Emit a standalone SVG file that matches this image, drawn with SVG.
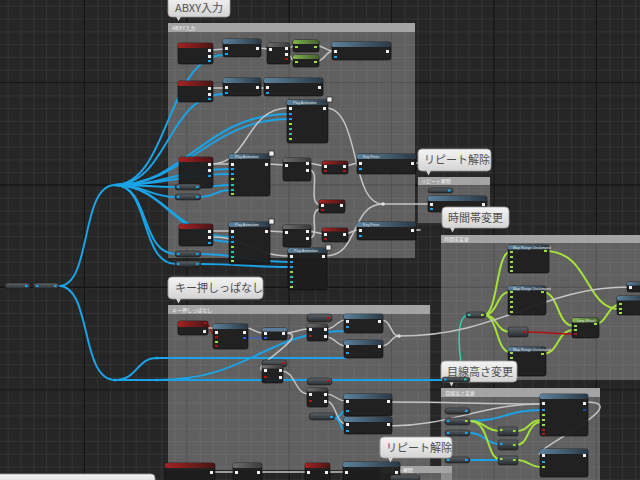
<svg xmlns="http://www.w3.org/2000/svg" width="640" height="480" viewBox="0 0 640 480">
<style>
.nb{fill:#1d1d1d;fill-opacity:.94;stroke:#0c0c0c;stroke-width:.6}
.hf{fill:url(#gF)}
.he{fill:url(#gE)}
.hg{fill:url(#gG)}
.hm{fill:url(#gM)}
.pl{fill:url(#gP);stroke:#141414;stroke-width:.5}
.x{fill:#f0f0f0}
.b{fill:#17a5f0}
.g{fill:#9be03c}
.r{fill:#b01212}
.t{fill:#24c9a8}
.w{fill:none;stroke-linecap:round}
.wb{stroke:#1aa3e6;stroke-width:2}
.wx{stroke:#c4c4c4;stroke-width:1.5}
.wg{stroke:#a6e03c;stroke-width:2}
.wr{stroke:#b41010;stroke-width:1.6}
.wt{stroke:#2cd2b0;stroke-width:1.6}
.cm{fill:#fff;fill-opacity:.27}
.ch{fill:#a4a4a4}
.ct{font-family:"Liberation Sans","Noto Sans CJK JP",sans-serif;font-size:5px;fill:#f4f4f4}
.bb{fill:url(#gB);stroke:#9a9a9a;stroke-width:.8}
.bt{font-family:"Noto Sans CJK JP","Noto Sans",sans-serif;font-size:11px;fill:#4e4e4e}
.nt{font-family:"Liberation Sans",sans-serif;font-size:3.6px;fill:#e6e6e6}
</style>
<defs>
<pattern id="grid" x="7.7" y="5.8" width="12.8" height="12.8" patternUnits="userSpaceOnUse">
<path d="M0.5,0 V12.8 M0,0.5 H12.8" stroke="#333" stroke-width="1" fill="none"/>
</pattern>
<linearGradient id="gF" x1="0" x2="1" y1="0" y2="0"><stop offset="0" stop-color="#5b819c"/><stop offset="1" stop-color="#2a3844"/></linearGradient>
<linearGradient id="gE" x1="0" x2="1" y1="0" y2="0"><stop offset="0" stop-color="#a42222"/><stop offset="1" stop-color="#481515"/></linearGradient>
<linearGradient id="gG" x1="0" x2="1" y1="0" y2="0"><stop offset="0" stop-color="#7fb44c"/><stop offset="1" stop-color="#445f2c"/></linearGradient>
<linearGradient id="gM" x1="0" x2="1" y1="0" y2="0"><stop offset="0" stop-color="#6c6c6c"/><stop offset="1" stop-color="#3a3a3a"/></linearGradient>
<linearGradient id="gP" x1="0" x2="0" y1="0" y2="1"><stop offset="0" stop-color="#5d6369"/><stop offset="1" stop-color="#272b2f"/></linearGradient>
<linearGradient id="gB" x1="0" x2="0" y1="0" y2="1"><stop offset="0" stop-color="#f4f4f4"/><stop offset="1" stop-color="#d4d4d4"/></linearGradient>
</defs>

<rect width="640" height="480" fill="#262626"/>
<rect width="640" height="480" fill="url(#grid)"/>
<g stroke="#141414" stroke-width="1.3">
<path d="M84.5,0 V480 M186.9,0 V480 M289.3,0 V480 M391.7,0 V480 M494.1,0 V480 M596.5,0 V480"/>
<path d="M0,82.6 H640 M0,185 H640 M0,287.4 H640 M0,389.8 H640"/>
</g>

<g id="comments">
<rect class="cm" x="168" y="23" width="247" height="235"/><rect class="ch" x="168" y="23" width="247" height="9"/>
<text class="ct" x="172" y="30">ABXY入力</text>
<rect class="cm" x="418" y="177" width="72" height="46"/><rect class="ch" x="418" y="177" width="72" height="8"/>
<text class="ct" x="421" y="183">リピート解除</text>
<rect class="cm" x="441" y="235" width="199" height="145"/><rect class="ch" x="441" y="235" width="199" height="8"/>
<text class="ct" x="444" y="241">時間帯変更</text>
<rect class="cm" x="168" y="305" width="262" height="165"/><rect class="ch" x="168" y="305" width="262" height="9"/>
<text class="ct" x="172" y="311.5">キー押しっぱなし</text>
<rect class="cm" x="441" y="388" width="159" height="92"/><rect class="ch" x="441" y="388" width="159" height="9"/>
<text class="ct" x="445" y="394.5">目線高さ変更</text>
<rect class="cm" x="380" y="466" width="72" height="14"/><rect class="ch" x="380" y="466" width="72" height="7"/>
<text class="ct" x="383" y="471.5">リピート解除</text>
</g>

<g id="connectors" class="w">
<g class="wb w">
<path d="M59,286 C92,286 80,185 115,185"/>
<path d="M59,286 C92,286 80,380 115,380"/>
<path d="M115,185 C168,185 168,55 224,55"/>
<path d="M115,185 C168,185 168,94 224,94"/>
<path d="M115,185 C185,185 205,114 289,114"/>
<path d="M115,185 C185,185 210,119 289,119"/>
<path d="M115,185 C170,185 175,169 231,169"/>
<path d="M115,185 C170,185 180,174 231,174"/>
<path d="M115,185 C145,185 150,187 176,187"/>
<path d="M115,185 C145,185 150,197 176,197"/>
<path d="M115,185 C150,185 140,254 176,254"/>
<path d="M115,185 C150,185 140,264 176,264"/>
<path d="M115,185 C165,185 175,237 231,237"/>
<path d="M115,185 C165,185 180,242 231,242"/>
<path d="M200,187 C215,187 215,185 231,185"/>
<path d="M200,197 C215,197 215,190 231,190"/>
<path d="M200,254 C240,254 250,262 290,262"/>
<path d="M200,264 C240,264 250,267 290,267"/>
<path d="M115,380 L444,380"/>
<path d="M115,380 C138,380 136,358 157,358 L346,358"/>
<path d="M157,380 C250,380 265,331 346,331"/>
<path d="M335,418 C341,418 340,411 346,411"/>
<path d="M335,418 C341,418 340,431 346,431"/>
<path d="M470,421 C505,421 505,410 542,410"/>
<path d="M470,433 C485,433 485,444 500,444"/>
<path d="M470,460 L500,460"/>
</g>
<path d="M248,338 L262,338" stroke="#2f5ee0" stroke-width="1.2"/>
<path class="wt w" d="M466,379 C458,360 455,316 468,315"/>
<g class="wg w">
<path d="M484,315 C498,315 496,252 510,252"/>
<path d="M484,315 C498,315 496,292 510,292"/>
<path d="M484,315 C498,315 496,332 510,332"/>
<path d="M484,315 C498,315 496,352 510,352"/>
<path d="M545,251 C590,251 585,309 619,309"/>
<path d="M542,292 C560,292 556,326 574,326"/>
<path d="M542,354 C560,354 556,330 574,330"/>
<path d="M596,324 C606,324 608,305 619,305"/>
<path d="M470,421 C486,421 484,431 500,431"/>
<path d="M470,421 C490,421 486,459 500,459"/>
<path d="M516,431 C530,431 528,420 542,420"/>
<path d="M516,445 C530,445 526,422 542,422"/>
<path d="M516,460 C530,460 528,467 542,467"/>
</g>
<g class="wr w">
<path d="M525,332 C545,332 555,334 574,334"/>
<path d="M206,323 C210,323 210,335 215,335"/>
</g>
<g class="wx w">
<path d="M211,50 L225,49"/>
<path d="M259,48 L269,49"/>
<path d="M288,48 C291,48 291,46 295,46"/>
<path d="M288,54 C291,54 291,61 295,61"/>
<path d="M317,46 C325,46 325,51 334,51"/>
<path d="M317,61 C325,61 325,51 334,51"/>
<path d="M211,88 L225,88"/>
<path d="M259,88 L266,88"/>
<path d="M211,164 L231,164"/>
<path d="M211,164 C250,164 245,108 289,108"/>
<path d="M268,164 L285,165"/>
<path d="M309,163 L324,166"/>
<path d="M309,170 C322,170 306,205 321,205"/>
<path d="M345,166 C350,166 352,163 359,163"/>
<path d="M326,108 C360,108 350,204 383,204"/>
<path d="M325,256 C360,256 350,204 383,204"/>
<path d="M383,204 L430,204"/>
<path d="M211,231 L231,231"/>
<path d="M211,237 C250,237 252,256 290,256"/>
<path d="M268,231 L285,232"/>
<path d="M309,231 L324,234"/>
<path d="M309,238 C322,238 306,209 321,209"/>
<path d="M345,234 C350,234 352,230 359,230"/>
<path d="M414,163 L420,163"/>
<path d="M414,230 L420,230"/>
<path d="M206,328 L215,328"/>
<path d="M246,328 C254,328 254,333 264,333"/>
<path d="M285,333 C297,333 297,329 309,329"/>
<path d="M285,333 C315,333 245,370 264,370"/>
<path d="M326,329 C336,329 336,320 346,320"/>
<path d="M326,337 C336,337 336,346 346,346"/>
<path d="M381,320 C392,320 390,336 399,336"/>
<path d="M381,346 C392,346 390,336 399,336"/>
<path d="M399,336 C500,336 540,287 629,287"/>
<path d="M281,371 C296,371 294,394 309,394"/>
<path d="M326,394 C336,394 336,401 346,401"/>
<path d="M326,401 C336,401 336,424 346,424"/>
<path d="M390,402 C460,402 470,404 542,404"/>
<path d="M390,426 C450,426 480,404 542,404"/>
<path d="M586,402 C640,402 520,455 542,455"/>
<path d="M213,472 L235,472"/>
<path d="M260,472 L307,472"/>
<path d="M328,472 L345,472"/>
</g>
<circle cx="383" cy="204" r="1.8" fill="#e0e0e0"/>
<circle cx="399" cy="336" r="1.8" fill="#e0e0e0"/>
<circle cx="115" cy="185" r="1.5" fill="#1aa3e6"/>
<circle cx="115" cy="380" r="1.5" fill="#1aa3e6"/>
<circle cx="157" cy="358" r="1.5" fill="#1aa3e6"/>
<circle cx="157" cy="380" r="1.5" fill="#1aa3e6"/>
</g>

<g id="start_pills">
<rect class="pl" x="5" y="283" width="25" height="6" rx="3"/><rect class="b" x="25" y="285" width="2.5" height="2"/>
<rect class="pl" x="33" y="283" width="26" height="6" rx="3"/><rect class="b" x="36" y="285" width="2.5" height="2"/><rect class="b" x="54" y="285" width="2.5" height="2"/>
</g>

<!-- ABXY nodes -->
<g id="ev1"><rect class="nb" x="178" y="43" width="35" height="21" rx="2"/><rect class="he" x="178" y="43" width="35" height="5" rx="1.5"/><rect class="x" x="208" y="49" width="3" height="3"/><rect class="x" x="208" y="55" width="3" height="3"/><rect class="b" x="208" y="60" width="3" height="2"/></g>
<g id="fn1"><rect class="nb" x="223" y="39" width="38" height="18" rx="2"/><rect class="hf" x="223" y="39" width="38" height="5" rx="1.5"/><rect class="x" x="225" y="47" width="3" height="3"/><rect class="b" x="225" y="53" width="3" height="2"/><rect class="x" x="256" y="47" width="3" height="3"/></g>
<g id="mac1"><rect class="nb" x="267" y="43" width="23" height="21" rx="2"/><rect class="hm" x="267" y="43" width="23" height="4" rx="1.5"/><rect class="x" x="269" y="48" width="3" height="3"/><rect class="x" x="285" y="47" width="3" height="3"/><rect class="x" x="285" y="53" width="3" height="3"/><rect class="r" x="285" y="58" width="3" height="2"/></g>
<g id="gr1"><rect class="nb" x="293" y="40" width="26" height="12" rx="2"/><rect class="hg" x="293" y="40" width="26" height="4" rx="1.5"/><rect class="g" x="295" y="46" width="3" height="2"/><rect class="g" x="314" y="46" width="3" height="2"/></g>
<g id="gr2"><rect class="nb" x="293" y="55" width="26" height="12" rx="2"/><rect class="hg" x="293" y="55" width="26" height="4" rx="1.5"/><rect class="g" x="295" y="61" width="3" height="2"/><rect class="g" x="314" y="61" width="3" height="2"/></g>
<g id="fn2"><rect class="nb" x="332" y="42" width="59" height="18" rx="2"/><rect class="hf" x="332" y="42" width="59" height="5" rx="1.5"/><rect class="x" x="334" y="50" width="3" height="3"/><rect class="b" x="334" y="56" width="3" height="2"/><rect class="x" x="386" y="50" width="3" height="3"/></g>
<g id="ev2"><rect class="nb" x="178" y="81" width="35" height="21" rx="2"/><rect class="he" x="178" y="81" width="35" height="5" rx="1.5"/><rect class="x" x="208" y="87" width="3" height="3"/><rect class="x" x="208" y="93" width="3" height="3"/><rect class="b" x="208" y="98" width="3" height="2"/></g>
<g id="fn3"><rect class="nb" x="223" y="78" width="38" height="18" rx="2"/><rect class="hf" x="223" y="78" width="38" height="5" rx="1.5"/><rect class="x" x="225" y="86" width="3" height="3"/><rect class="b" x="225" y="92" width="3" height="2"/><rect class="x" x="256" y="86" width="3" height="3"/></g>
<g id="fn4"><rect class="nb" x="264" y="78" width="59" height="18" rx="2"/><rect class="hf" x="264" y="78" width="59" height="5" rx="1.5"/><rect class="x" x="266" y="86" width="3" height="3"/><rect class="b" x="266" y="92" width="3" height="2"/><rect class="x" x="318" y="86" width="3" height="3"/></g>
<g id="play1"><rect class="nb" x="287" y="100" width="41" height="43" rx="2"/><rect class="hf" x="287" y="100" width="41" height="5" rx="1.5"/><text class="nt" x="293" y="104">Play Animation</text><rect x="327" y="97" width="5" height="5" fill="#eee" stroke="#111" stroke-width=".6"/>
<rect class="x" x="289" y="107" width="3" height="3"/><rect class="b" x="289" y="113" width="3" height="2"/><rect class="b" x="289" y="118" width="3" height="2"/><rect class="g" x="289" y="123" width="3" height="2"/><rect class="t" x="289" y="128" width="3" height="2"/><rect class="t" x="289" y="133" width="3" height="2"/><rect class="g" x="289" y="138" width="3" height="2"/><rect class="x" x="323" y="107" width="3" height="3"/></g>
<g id="ev3"><rect class="nb" x="179" y="157" width="34" height="31" rx="2"/><rect class="he" x="179" y="157" width="34" height="5" rx="1.5"/><rect class="x" x="208" y="163" width="3" height="3"/><rect class="x" x="208" y="169" width="3" height="3"/><rect class="b" x="208" y="175" width="3" height="2"/></g>
<g id="pl1"><rect class="pl" x="175" y="184" width="26" height="6" rx="3"/><rect class="b" x="177" y="186" width="2.5" height="2"/><rect class="b" x="196" y="186" width="2.5" height="2"/></g>
<g id="pl2"><rect class="pl" x="175" y="194" width="26" height="6" rx="3"/><rect class="b" x="177" y="196" width="2.5" height="2"/><rect class="b" x="196" y="196" width="2.5" height="2"/></g>
<g id="play2"><rect class="nb" x="229" y="154" width="41" height="42" rx="2"/><rect class="hf" x="229" y="154" width="41" height="5" rx="1.5"/><text class="nt" x="235" y="158">Play Animation</text><rect x="269" y="151" width="5" height="5" fill="#eee" stroke="#111" stroke-width=".6"/>
<rect class="x" x="231" y="163" width="3" height="3"/><rect class="b" x="231" y="168" width="3" height="2"/><rect class="b" x="231" y="173" width="3" height="2"/><rect class="g" x="231" y="178" width="3" height="2"/><rect class="t" x="231" y="184" width="3" height="2"/><rect class="t" x="231" y="189" width="3" height="2"/><rect class="g" x="231" y="193" width="3" height="2"/><rect class="x" x="265" y="163" width="3" height="3"/></g>
<g id="seq1"><rect class="nb" x="283" y="158" width="28" height="23" rx="2"/><rect class="hm" x="283" y="158" width="28" height="4" rx="1.5"/><rect class="x" x="285" y="164" width="3" height="3"/><rect class="x" x="306" y="162" width="3" height="3"/><rect class="x" x="306" y="169" width="3" height="3"/></g>
<g id="rs1"><rect class="nb" x="322" y="161" width="26" height="13" rx="2"/><rect class="he" x="322" y="161" width="26" height="3.5" rx="1.5"/><rect class="x" x="324" y="165" width="3" height="3"/><rect class="r" x="324" y="170" width="3" height="2"/><rect class="x" x="343" y="165" width="3" height="3"/><rect class="r" x="343" y="170" width="3" height="2"/></g>
<g id="rs2"><rect class="nb" x="319" y="200" width="26" height="13" rx="2"/><rect class="he" x="319" y="200" width="26" height="3.5" rx="1.5"/><rect class="x" x="321" y="204" width="3" height="3"/><rect class="r" x="321" y="209" width="3" height="2"/><rect class="x" x="340" y="204" width="3" height="3"/></g>
<g id="key1"><rect class="nb" x="357" y="154" width="59" height="20" rx="2"/><rect class="hf" x="357" y="154" width="59" height="5" rx="1.5"/><text class="nt" x="363" y="158">Key Press</text><rect class="x" x="359" y="162" width="3" height="3"/><rect class="b" x="359" y="168" width="3" height="2"/><rect class="x" x="411" y="162" width="3" height="3"/></g>
<g id="ev4"><rect class="nb" x="179" y="224" width="34" height="22" rx="2"/><rect class="he" x="179" y="224" width="34" height="5" rx="1.5"/><rect class="x" x="208" y="230" width="3" height="3"/><rect class="x" x="208" y="236" width="3" height="3"/><rect class="b" x="208" y="242" width="3" height="2"/></g>
<g id="pl3"><rect class="pl" x="175" y="251" width="26" height="6" rx="3"/><rect class="b" x="177" y="253" width="2.5" height="2"/><rect class="b" x="196" y="253" width="2.5" height="2"/></g>
<g id="pl4"><rect class="pl" x="175" y="261" width="26" height="6" rx="3"/><rect class="b" x="177" y="263" width="2.5" height="2"/><rect class="b" x="196" y="263" width="2.5" height="2"/></g>
<g id="play3"><rect class="nb" x="229" y="222" width="41" height="42" rx="2"/><rect class="hf" x="229" y="222" width="41" height="5" rx="1.5"/><text class="nt" x="235" y="226">Play Animation</text><rect x="269" y="219" width="5" height="5" fill="#eee" stroke="#111" stroke-width=".6"/>
<rect class="x" x="231" y="230" width="3" height="3"/><rect class="b" x="231" y="236" width="3" height="2"/><rect class="b" x="231" y="241" width="3" height="2"/><rect class="g" x="231" y="246" width="3" height="2"/><rect class="t" x="231" y="251" width="3" height="2"/><rect class="t" x="231" y="256" width="3" height="2"/><rect class="g" x="231" y="260" width="3" height="2"/><rect class="x" x="265" y="230" width="3" height="3"/></g>
<g id="seq2"><rect class="nb" x="283" y="225" width="28" height="22" rx="2"/><rect class="hm" x="283" y="225" width="28" height="4" rx="1.5"/><rect class="x" x="285" y="231" width="3" height="3"/><rect class="x" x="306" y="230" width="3" height="3"/><rect class="x" x="306" y="237" width="3" height="3"/></g>
<g id="rs3"><rect class="nb" x="322" y="228" width="26" height="14" rx="2"/><rect class="he" x="322" y="228" width="26" height="3.5" rx="1.5"/><rect class="x" x="324" y="233" width="3" height="3"/><rect class="r" x="324" y="238" width="3" height="2"/><rect class="x" x="343" y="233" width="3" height="3"/></g>
<g id="key2"><rect class="nb" x="357" y="222" width="59" height="18" rx="2"/><rect class="hf" x="357" y="222" width="59" height="5" rx="1.5"/><text class="nt" x="363" y="226">Key Press</text><rect class="x" x="359" y="229" width="3" height="3"/><rect class="b" x="359" y="235" width="3" height="2"/><rect class="x" x="411" y="229" width="3" height="3"/></g>
<g id="play4"><rect class="nb" x="288" y="248" width="39" height="42" rx="2"/><rect class="hf" x="288" y="248" width="39" height="5" rx="1.5"/><text class="nt" x="294" y="252">Play Animation</text><rect x="326" y="245" width="5" height="5" fill="#eee" stroke="#111" stroke-width=".6"/>
<rect class="x" x="290" y="255" width="3" height="3"/><rect class="b" x="290" y="261" width="3" height="2"/><rect class="b" x="290" y="266" width="3" height="2"/><rect class="g" x="290" y="271" width="3" height="2"/><rect class="t" x="290" y="276" width="3" height="2"/><rect class="t" x="290" y="281" width="3" height="2"/><rect class="g" x="290" y="286" width="3" height="2"/><rect class="x" x="322" y="255" width="3" height="3"/></g>

<!-- repeat release -->
<g id="rp_pill"><rect class="pl" x="428" y="188" width="25" height="5" rx="2.5"/><rect class="b" x="448" y="189.5" width="2.5" height="2"/></g>
<g id="rp_fn"><rect class="nb" x="428" y="196" width="59" height="16" rx="2"/><rect class="hf" x="428" y="196" width="59" height="5" rx="1.5"/><rect class="x" x="430" y="203" width="3" height="3"/><rect class="b" x="430" y="208" width="3" height="2"/><rect class="x" x="482" y="203" width="3" height="3"/></g>

<!-- time of day -->
<g id="t_reroute"><rect class="pl" x="466" y="312" width="20" height="6" rx="3"/><rect class="t" x="468" y="314" width="2.5" height="2"/><rect class="g" x="481" y="314" width="2.5" height="2"/></g>
<g id="t_map1"><rect class="nb" x="508" y="245" width="41" height="28" rx="2"/><rect class="hf" x="508" y="245" width="41" height="4.5" rx="1.5"/><text class="nt" x="513" y="248.7">Map Range Unclamped</text><rect class="g" x="510" y="251" width="3" height="2"/><rect class="g" x="510" y="256" width="3" height="2"/><rect class="g" x="510" y="261" width="3" height="2"/><rect class="g" x="510" y="266" width="3" height="2"/><rect class="g" x="510" y="270" width="3" height="2"/><rect class="g" x="544" y="250" width="3" height="2"/></g>
<g id="t_map2"><rect class="nb" x="508" y="286" width="38" height="29" rx="2"/><rect class="hf" x="508" y="286" width="38" height="4.5" rx="1.5"/><text class="nt" x="513" y="289.7">Map Range Unclamped</text><rect class="g" x="510" y="291" width="3" height="2"/><rect class="g" x="510" y="296" width="3" height="2"/><rect class="g" x="510" y="301" width="3" height="2"/><rect class="g" x="510" y="306" width="3" height="2"/><rect class="g" x="510" y="311" width="3" height="2"/><rect class="g" x="541" y="291" width="3" height="2"/></g>
<g id="t_var"><rect class="pl" x="508" y="327" width="20" height="10" rx="2"/><rect class="r" x="523" y="331" width="3" height="2"/></g>
<g id="t_map3"><rect class="nb" x="508" y="347" width="38" height="29" rx="2"/><rect class="hf" x="508" y="347" width="38" height="4.5" rx="1.5"/><text class="nt" x="513" y="350.7">Map Range Unclamped</text><rect class="g" x="510" y="352" width="3" height="2"/><rect class="g" x="510" y="357" width="3" height="2"/><rect class="g" x="510" y="362" width="3" height="2"/><rect class="g" x="510" y="367" width="3" height="2"/><rect class="g" x="510" y="372" width="3" height="2"/><rect class="g" x="541" y="353" width="3" height="2"/></g>
<g id="t_lerp"><rect class="nb" x="572" y="318" width="27" height="20" rx="2"/><rect class="hg" x="572" y="318" width="27" height="4.5" rx="1.5"/><text class="nt" x="577" y="321.7">Lerp (Float)</text><rect class="g" x="574" y="325" width="3" height="2"/><rect class="g" x="574" y="329" width="3" height="2"/><rect class="r" x="574" y="333" width="3" height="2"/><rect class="g" x="594" y="323" width="3" height="2"/></g>
<g id="t_out"><rect class="nb" x="617" y="296" width="30" height="19" rx="2"/><rect class="hf" x="617" y="296" width="30" height="4.5" rx="1.5"/><rect class="g" x="619" y="303" width="3" height="2"/><rect class="g" x="619" y="308" width="3" height="2"/><rect class="g" x="619" y="312" width="3" height="2"/></g>
<g id="t_top"><rect class="nb" x="627" y="282" width="20" height="10" rx="2"/><rect class="hf" x="627" y="282" width="20" height="3.5" rx="1.5"/><rect class="x" x="629" y="286" width="3" height="3"/></g>

<!-- key held -->
<g id="k_ev"><rect class="nb" x="178" y="321" width="30" height="14" rx="2"/><rect class="he" x="178" y="321" width="30" height="6" rx="1.5"/><rect class="r" x="204" y="322" width="3" height="2"/><rect class="x" x="203" y="330" width="3" height="3"/></g>
<g id="k_fn1"><rect class="nb" x="213" y="324" width="35" height="25" rx="2"/><rect class="hf" x="213" y="324" width="35" height="5" rx="1.5"/><rect class="x" x="215" y="331" width="3" height="3"/><rect class="r" x="215" y="336" width="3" height="2"/><rect class="g" x="215" y="341" width="3" height="2"/><rect class="r" x="215" y="345" width="3" height="2"/><rect class="x" x="243" y="331" width="3" height="3"/><rect x="243" y="337" width="3" height="2" fill="#2f5ee0"/></g>
<g id="k_gate"><rect class="nb" x="262" y="328" width="25" height="12" rx="2"/><rect fill="#5e7a99" x="262" y="328" width="25" height="3.5" rx="1.5"/><rect class="x" x="264" y="332" width="3" height="3"/><rect class="x" x="282" y="332" width="3" height="3"/><rect x="264" y="337" width="3" height="2" fill="#2f5ee0"/></g>
<g id="k_rp1"><rect class="pl" x="307" y="314" width="25" height="8" rx="3" fill="#5a2a2a"/><rect class="r" x="327" y="317" width="3" height="2"/></g>
<g id="k_br1"><rect class="nb" x="307" y="324" width="21" height="17" rx="2"/><rect class="hm" x="307" y="324" width="21" height="3.5" rx="1.5"/><rect class="x" x="309" y="328" width="3" height="3"/><rect class="r" x="309" y="335" width="3" height="2"/><rect class="x" x="324" y="328" width="3" height="3"/><rect class="x" x="324" y="335" width="3" height="3"/></g>
<g id="k_fn2"><rect class="nb" x="344" y="314" width="39" height="19" rx="2"/><rect class="hf" x="344" y="314" width="39" height="5" rx="1.5"/><rect class="x" x="346" y="320" width="3" height="3"/><rect class="b" x="346" y="326" width="3" height="2"/><rect class="x" x="378" y="320" width="3" height="3"/></g>
<g id="k_fn3"><rect class="nb" x="344" y="340" width="39" height="18" rx="2"/><rect class="hf" x="344" y="340" width="39" height="5" rx="1.5"/><rect class="x" x="346" y="345" width="3" height="3"/><rect class="b" x="346" y="352" width="3" height="2"/><rect class="x" x="378" y="345" width="3" height="3"/></g>
<g id="k_rp2"><rect class="pl" x="262" y="360" width="25" height="7" rx="3"/><rect class="r" x="282" y="362" width="3" height="2"/></g>
<g id="k_br2"><rect class="nb" x="262" y="365" width="21" height="18" rx="2"/><rect class="hm" x="262" y="365" width="21" height="3.5" rx="1.5"/><rect class="x" x="264" y="369" width="3" height="3"/><rect class="r" x="264" y="376" width="3" height="2"/><rect class="x" x="279" y="369" width="3" height="3"/><rect class="x" x="279" y="376" width="3" height="3"/></g>
<g id="k_rp3"><rect class="pl" x="307" y="378" width="25" height="7" rx="3"/><rect class="r" x="327" y="380" width="3" height="2"/></g>
<g id="k_br3"><rect class="nb" x="307" y="388" width="21" height="19" rx="2"/><rect class="hm" x="307" y="388" width="21" height="3.5" rx="1.5"/><rect class="x" x="309" y="393" width="3" height="3"/><rect class="r" x="309" y="400" width="3" height="2"/><rect class="x" x="324" y="393" width="3" height="3"/><rect class="x" x="324" y="400" width="3" height="3"/></g>
<g id="k_fn4"><rect class="nb" x="344" y="394" width="48" height="22" rx="2"/><rect class="hf" x="344" y="394" width="48" height="5" rx="1.5"/><rect class="x" x="346" y="400" width="3" height="3"/><rect class="b" x="346" y="410" width="3" height="2"/><rect class="x" x="387" y="400" width="3" height="3"/></g>
<g id="k_pill"><rect class="pl" x="309" y="413" width="26" height="7" rx="3.5"/><rect class="b" x="330" y="416" width="3" height="2"/></g>
<g id="k_fn5"><rect class="nb" x="344" y="417" width="48" height="17" rx="2"/><rect class="hf" x="344" y="417" width="48" height="5" rx="1.5"/><rect class="x" x="346" y="423" width="3" height="3"/><rect class="b" x="346" y="430" width="3" height="2"/><rect class="x" x="387" y="423" width="3" height="3"/></g>

<!-- eye height -->
<g id="m_p1"><rect class="pl" x="445" y="408" width="25" height="6" rx="3"/><rect class="b" x="465" y="410" width="2.5" height="2"/></g>
<g id="m_p2"><rect class="pl" x="445" y="418" width="25" height="7" rx="3"/><rect class="b" x="447" y="420" width="2.5" height="2"/><rect class="g" x="465" y="420" width="2.5" height="2"/></g>
<g id="m_p3"><rect class="pl" x="445" y="430" width="25" height="6" rx="3"/><rect class="b" x="447" y="432" width="2.5" height="2"/><rect class="b" x="465" y="432" width="2.5" height="2"/></g>
<g id="m_p5"><rect class="pl" x="445" y="457" width="25" height="6" rx="3"/><rect class="b" x="447" y="459" width="2.5" height="2"/><rect class="b" x="465" y="459" width="2.5" height="2"/></g>
<g id="m_s1"><rect class="pl" x="498" y="427" width="20" height="9" rx="2"/><rect class="g" x="500" y="429" width="2.5" height="2"/><rect class="g" x="513" y="430" width="2.5" height="2"/></g>
<g id="m_s2"><rect class="pl" x="498" y="440" width="20" height="10" rx="2"/><rect class="b" x="500" y="443" width="2.5" height="2"/><rect class="g" x="513" y="444" width="2.5" height="2"/></g>
<g id="m_s3"><rect class="pl" x="498" y="456" width="20" height="9" rx="2"/><rect class="g" x="500" y="458" width="2.5" height="2"/><rect class="g" x="513" y="459" width="2.5" height="2"/></g>
<g id="m_fn1"><rect class="nb" x="540" y="394" width="48" height="42" rx="2"/><rect class="hf" x="540" y="394" width="48" height="5" rx="1.5"/><rect class="x" x="542" y="402" width="3" height="3"/><rect class="b" x="542" y="409" width="3" height="2"/><rect class="g" x="542" y="414" width="3" height="2"/><rect class="g" x="542" y="419" width="3" height="2"/><rect class="g" x="542" y="424" width="3" height="2"/><rect class="r" x="542" y="429" width="3" height="2"/><rect class="r" x="542" y="433" width="3" height="2"/><rect class="x" x="583" y="402" width="3" height="3"/><rect x="583" y="409" width="3" height="2" fill="#1a4a9a"/></g>
<g id="m_fn2"><rect class="nb" x="540" y="449" width="48" height="28" rx="2"/><rect class="hf" x="540" y="449" width="48" height="5" rx="1.5"/><rect class="x" x="542" y="454" width="3" height="3"/><rect class="b" x="542" y="461" width="3" height="2"/><rect class="g" x="542" y="466" width="3" height="2"/><rect class="x" x="583" y="454" width="3" height="3"/></g>

<!-- bottom row -->
<g id="b_ev"><rect class="nb" x="165" y="463" width="50" height="20" rx="2"/><rect class="he" x="165" y="463" width="50" height="5" rx="1.5"/><rect class="x" x="210" y="471" width="3" height="3"/></g>
<g id="b_mac"><rect class="nb" x="233" y="463" width="29" height="20" rx="2"/><rect class="hm" x="233" y="463" width="29" height="5" rx="1.5"/><rect class="x" x="235" y="471" width="3" height="3"/><rect class="x" x="257" y="471" width="3" height="3"/></g>
<g id="b_rs"><rect class="nb" x="305" y="463" width="25" height="20" rx="2"/><rect class="he" x="305" y="463" width="25" height="5" rx="1.5"/><rect class="x" x="307" y="471" width="3" height="3"/><rect class="x" x="325" y="471" width="3" height="3"/></g>
<g id="b_fn"><rect class="nb" x="343" y="462" width="57" height="20" rx="2"/><rect class="hf" x="343" y="462" width="57" height="5" rx="1.5"/><rect class="x" x="345" y="471" width="3" height="3"/><rect class="x" x="395" y="471" width="3" height="3"/></g>
<g id="rp2_pill"><rect class="pl" x="390" y="475" width="30" height="6" rx="3"/></g>

<!-- bubbles -->
<g id="bub_abxy"><rect class="bb" x="168" y="-4" width="62" height="21" rx="4"/><path d="M176,16.5 L181,16.5 L178.5,21 Z" fill="#d6d6d6"/><text class="bt" x="175" y="12" font-size="12">ABXY入力</text></g>
<g id="bub_rp1"><rect class="bb" x="418" y="149" width="73" height="22" rx="4"/><path d="M426,170.5 L431,170.5 L428.5,175.5 Z" fill="#d6d6d6"/><text class="bt" x="424" y="164">リピート解除</text></g>
<g id="bub_time"><rect class="bb" x="442" y="207" width="67" height="21" rx="4"/><path d="M450,227.5 L455,227.5 L452.5,232.5 Z" fill="#d6d6d6"/><text class="bt" x="448" y="222">時間帯変更</text></g>
<g id="bub_key"><rect class="bb" x="168" y="277" width="95" height="22" rx="4"/><path d="M176,298.5 L181,298.5 L178.5,303.5 Z" fill="#d6d6d6"/><text class="bt" x="175" y="292">キー押しっぱなし</text></g>
<g id="bub_eye"><rect class="bb" x="441" y="361" width="76" height="21" rx="4"/><path d="M449,381.5 L454,381.5 L451.5,386.5 Z" fill="#d6d6d6"/><text class="bt" x="447" y="376">目線高さ変更</text></g>
<g id="bub_rp2"><rect class="bb" x="380" y="437" width="72" height="21" rx="4"/><path d="M388,457.5 L393,457.5 L390.5,462.5 Z" fill="#d6d6d6"/><text class="bt" x="386" y="452">リピート解除</text></g>
<rect class="bb" x="-4" y="474" width="159" height="12" rx="4"/>
<g id="t_pill"><rect class="pl" x="442" y="377" width="28" height="5" rx="2.5"/><rect class="b" x="444" y="378.5" width="2.5" height="2"/><rect class="t" x="464" y="378.5" width="2.5" height="2"/></g>
</svg>
